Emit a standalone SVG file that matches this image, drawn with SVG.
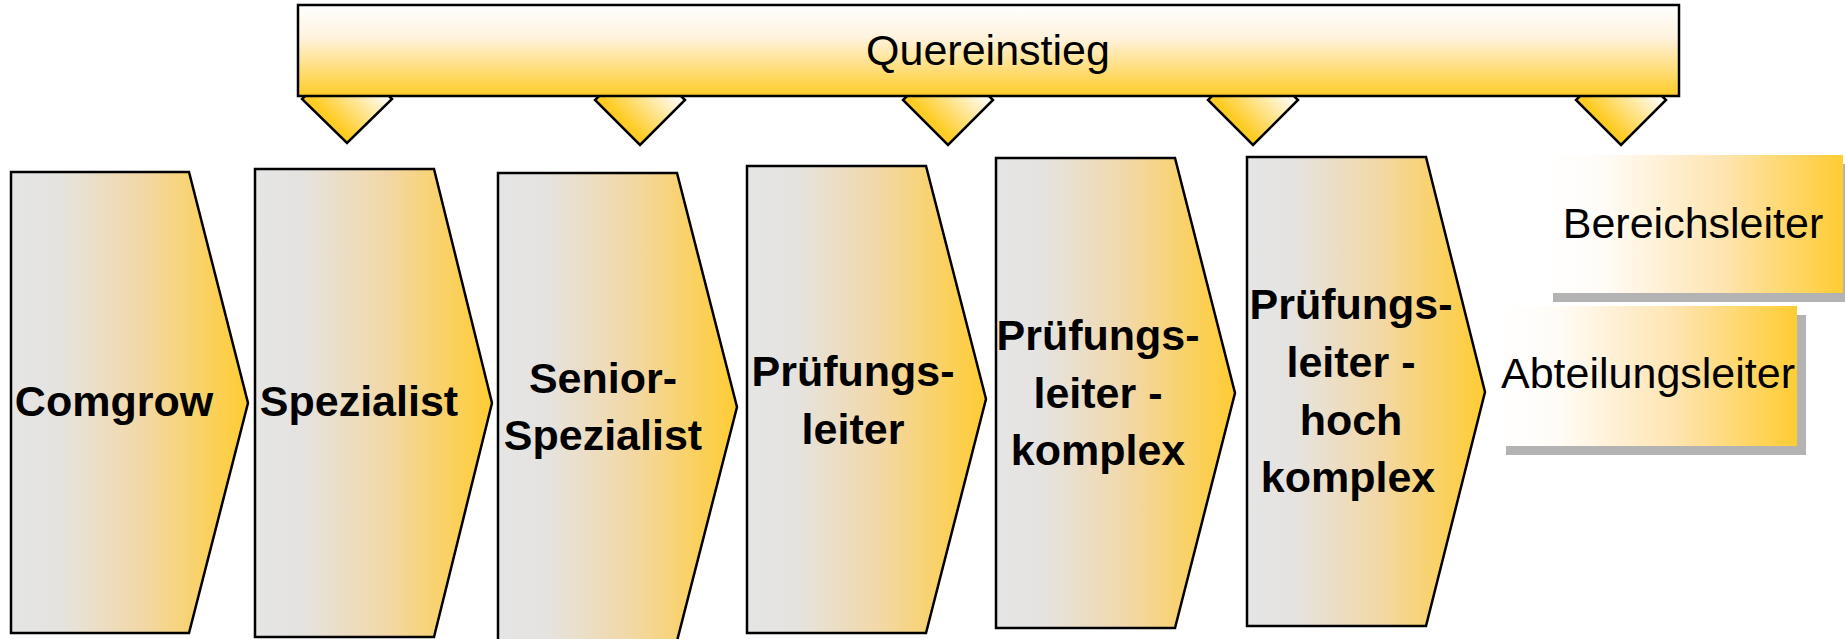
<svg xmlns="http://www.w3.org/2000/svg" width="1845" height="639" viewBox="0 0 1845 639">
  <defs>
    <linearGradient id="gBanner" x1="0" y1="0" x2="0" y2="1">
      <stop offset="0" stop-color="#FFFFFF"/>
      <stop offset="0.35" stop-color="#FFF3DF"/>
      <stop offset="1" stop-color="#FFCC26"/>
    </linearGradient>
    <linearGradient id="gDiamond" x1="0.3" y1="0.7" x2="0.75" y2="0.25">
      <stop offset="0" stop-color="#FFCC26"/>
      <stop offset="1" stop-color="#FFFFFF"/>
    </linearGradient>
    <linearGradient id="gChevron" x1="0" y1="0" x2="1" y2="0">
      <stop offset="0" stop-color="#E5E5E5"/>
      <stop offset="0.2" stop-color="#E5E3E0"/>
      <stop offset="0.55" stop-color="#F2D8A8"/>
      <stop offset="1" stop-color="#FFCC33"/>
    </linearGradient>
    <linearGradient id="gBox" x1="0" y1="0" x2="1" y2="0">
      <stop offset="0" stop-color="#FFFFFF"/>
      <stop offset="0.2" stop-color="#FFFCF7"/>
      <stop offset="0.6" stop-color="#FEE4B0"/>
      <stop offset="1" stop-color="#FFCC33"/>
    </linearGradient>
  </defs>
  <style>
    .chev { fill: url(#gChevron); stroke: #000; stroke-width: 2.5; stroke-linejoin: miter; }
    .dia { fill: url(#gDiamond); stroke: #000; stroke-width: 2.5; }
    .banner { fill: url(#gBanner); stroke: #000; stroke-width: 2.5; }
    .box { fill: url(#gBox); }
    .shadow { fill: #B3B3B3; }
    .bold { font-family: "Liberation Sans", Arial, sans-serif; font-weight: bold; font-size: 43px; fill: #000; text-anchor: middle; }
    .reg { font-family: "Liberation Sans", Arial, sans-serif; font-size: 43px; fill: #000; text-anchor: middle; }
  </style>

  <g id="connectors">
    <polygon class="dia" points="347,54 392,99 347,143 302,99"/>
    <polygon class="dia" points="640,55 685,100 640,145 595,100"/>
    <polygon class="dia" points="948,55 993,100 948,145 903,100"/>
    <polygon class="dia" points="1253,55 1298,100 1253,145 1208,100"/>
    <polygon class="dia" points="1621,55 1666,100 1621,145 1576,100"/>
  </g>

  <g id="quereinstieg">
    <rect class="banner" x="298" y="5" width="1381" height="91"/>
    <text class="reg" x="988" y="65">Quereinstieg</text>
  </g>

  <g id="comgrow">
    <polygon class="chev" points="11,172 189,172 248,403 189,633 11,633"/>
    <text class="bold" x="114" y="416">Comgrow</text>
  </g>

  <g id="spezialist">
    <polygon class="chev" points="255,169 434,169 492,403 434,637 255,637"/>
    <text class="bold" x="359" y="416">Spezialist</text>
  </g>

  <g id="senior-spezialist">
    <polygon class="chev" points="498,173 677,173 737,407 677,641 498,641"/>
    <text class="bold" x="603" y="393">Senior-</text>
    <text class="bold" x="603" y="450">Spezialist</text>
  </g>

  <g id="pruefungsleiter">
    <polygon class="chev" points="747,166 926,166 986,399 926,633 747,633"/>
    <text class="bold" x="853" y="386">Prüfungs-</text>
    <text class="bold" x="853" y="444">leiter</text>
  </g>

  <g id="pruefungsleiter-komplex">
    <polygon class="chev" points="996,158 1175,158 1235,393 1175,628 996,628"/>
    <text class="bold" x="1098" y="350">Prüfungs-</text>
    <text class="bold" x="1098" y="408">leiter -</text>
    <text class="bold" x="1098" y="465">komplex</text>
  </g>

  <g id="pruefungsleiter-hoch-komplex">
    <polygon class="chev" points="1247,157 1426,157 1485,392 1426,626 1247,626"/>
    <text class="bold" x="1351" y="319">Prüfungs-</text>
    <text class="bold" x="1351" y="377">leiter -</text>
    <text class="bold" x="1351" y="435">hoch</text>
    <text class="bold" x="1348" y="492">komplex</text>
  </g>

  <g id="bereichsleiter">
    <rect class="shadow" x="1553" y="164" width="299" height="138"/>
    <rect class="box" x="1544" y="155" width="299" height="138"/>
    <text class="reg" x="1693" y="238">Bereichsleiter</text>
  </g>

  <g id="abteilungsleiter">
    <rect class="shadow" x="1506" y="315" width="300" height="140"/>
    <rect class="box" x="1497" y="306" width="300" height="140"/>
    <text class="reg" x="1648" y="388">Abteilungsleiter</text>
  </g>
</svg>
